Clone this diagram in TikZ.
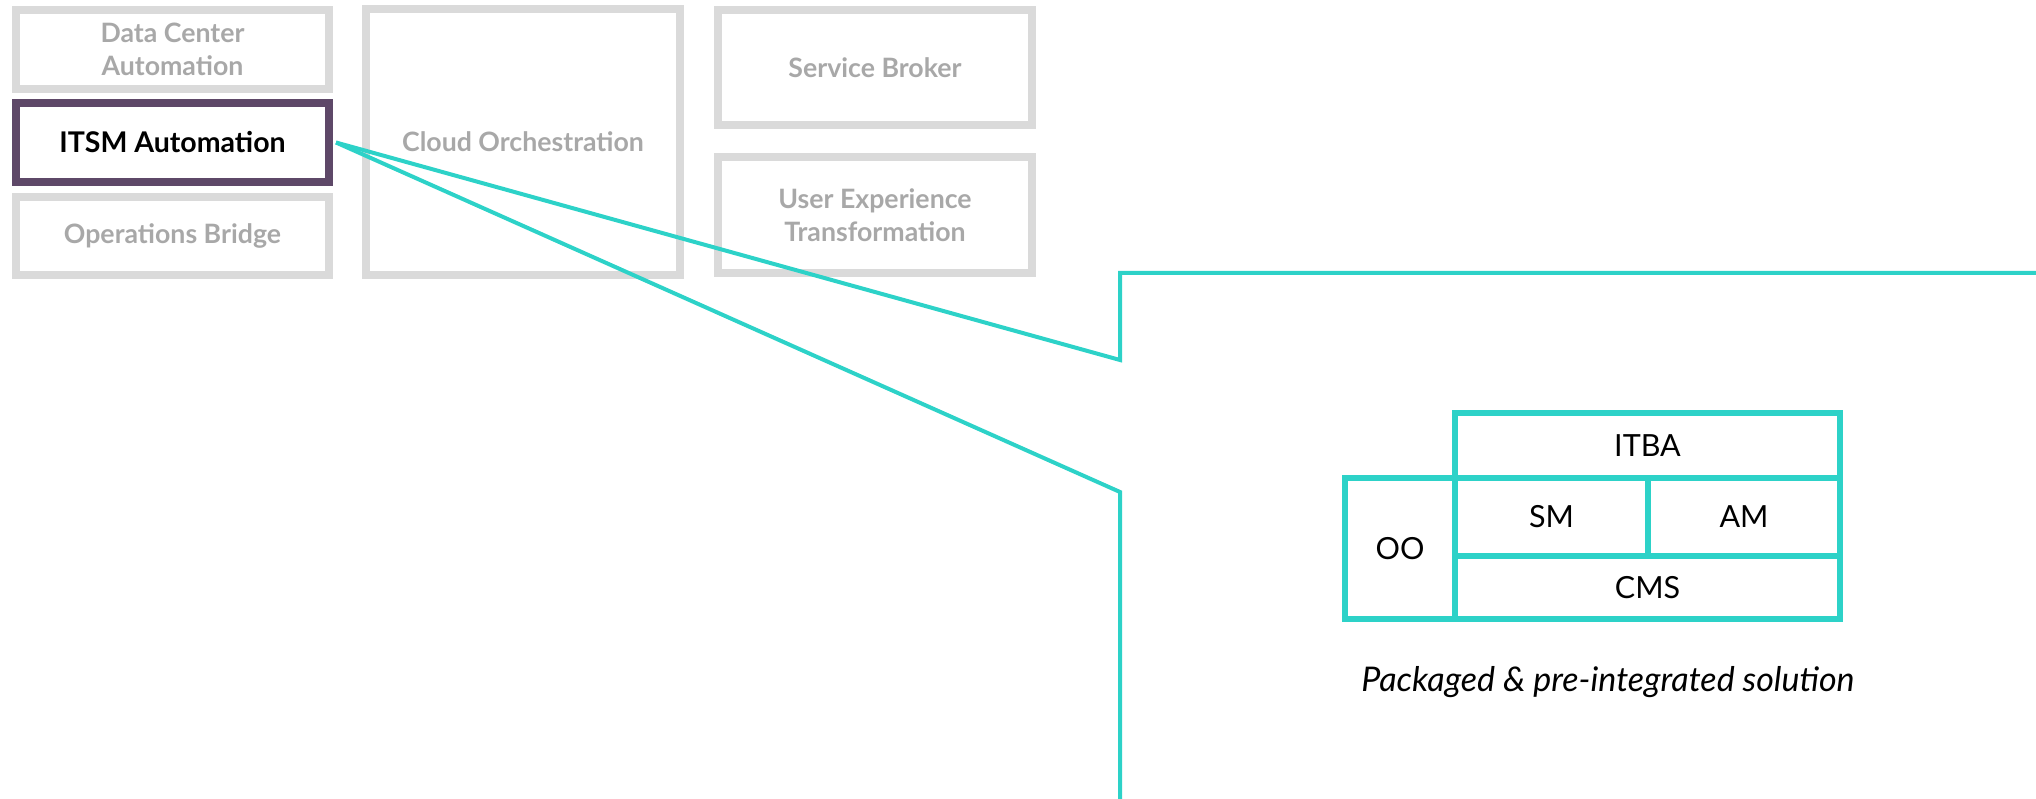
\documentclass[tikz,border=0pt]{standalone}
\usepackage{fontspec}
\setmainfont{Lato}
\definecolor{boxgray}{HTML}{DADADA}
\definecolor{textgray}{HTML}{A8A8A8}
\definecolor{itsmpurple}{HTML}{5E4868}
\definecolor{teal}{RGB}{45,210,200}
\begin{document}
\begin{tikzpicture}[x=1pt,y=-1pt,
  graybox/.style={draw=boxgray,line width=8pt,text=textgray,align=center,inner sep=0pt,
    font=\bfseries\fontsize{26.7}{33}\selectfont},
  activebox/.style={graybox,draw=itsmpurple,text=black,font=\bfseries\fontsize{28.5}{33}\selectfont},
  cell/.style={draw=teal,line width=6pt,inner sep=0pt,text=black,font=\fontsize{30.5}{36}\selectfont},
  zoomline/.style={draw=teal,line width=4pt,line join=miter}]
\useasboundingbox (0,0) rectangle (2036,799);
% left column
\node[graybox,minimum width=313pt,minimum height=79pt] (dc) at (172.5,49.5) {Data Center\\Automation};
\node[activebox,minimum width=313pt,minimum height=79pt] (itsm) at (172.5,142.5) {ITSM Automation};
\node[graybox,minimum width=313pt,minimum height=78pt] (ob) at (172.5,236) {Operations Bridge};
% middle
\node[graybox,minimum width=314pt,minimum height=266pt] (co) at (523,142) {Cloud Orchestration};
% right column
\node[graybox,minimum width=314pt,minimum height=115pt] (sb) at (875,67.5) {Service Broker};
\node[graybox,minimum width=314pt,minimum height=116pt] (ux) at (875,215) {User Experience\\Transformation};
% zoom connectors
\coordinate (s) at ([xshift=3pt]itsm.east);
\coordinate (up) at (1120,360);
\coordinate (upc) at (1120,273);
\coordinate (upr) at (2040,273);
\coordinate (lo) at (1120,492);
\coordinate (lob) at (1120,803);
\draw[zoomline] (s) -- (up) -- (upc) -- (upr);
\draw[zoomline] (s) -- (lo) -- (lob);
% table
\node[cell,minimum width=385pt,minimum height=65pt] (itba) at (1647.5,445.5) {ITBA};
\node[cell,minimum width=193pt,minimum height=78pt] (sm) at (1551.5,517) {SM};
\node[cell,minimum width=192pt,minimum height=78pt] (am) at (1744,517) {AM};
\node[cell,minimum width=385pt,minimum height=63pt] (cms) at (1647.5,587.5) {CMS};
\node[cell,minimum width=110pt,minimum height=141pt] (oo) at (1400,548.5) {OO};
\node[font=\itshape\fontsize{34}{40}\selectfont] (cap) at (1608,682) {Packaged \& pre-integrated solution};
\end{tikzpicture}
\end{document}
